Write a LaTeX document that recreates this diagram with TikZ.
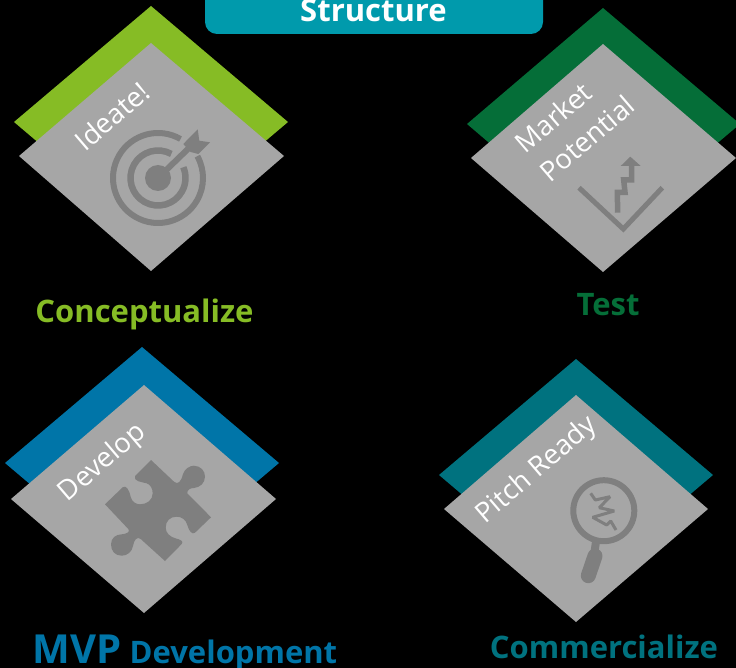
\documentclass[tikz,border=0pt]{standalone}
\usepackage{fontspec}
\setmainfont{Open Sans}

\definecolor{ideagreen}{HTML}{86BC25}
\definecolor{testgreen}{HTML}{056E38}
\definecolor{devblue}{HTML}{0075A8}
\definecolor{pitchteal}{HTML}{00727F}
\definecolor{titleteal}{HTML}{009AAC}
\definecolor{plategray}{HTML}{A6A6A6}
\definecolor{icongray}{HTML}{7F7F7F}

\tikzset{
	platetext/.style={white,rotate=40.6,font=\fontsize{27.5}{38}\selectfont,align=left,inner sep=0pt},
	headtext/.style={anchor=base,inner sep=0pt,font=\fontsize{31}{36}\selectfont\bfseries},
	iconline/.style={draw=icongray,line join=miter}
}

\begin{document}
\begin{tikzpicture}[x=1pt,y=1pt]
	\path[use as bounding box,fill=black] (0,0) rectangle (736,-668);

	\fill[titleteal,rounded corners=12pt] (205,20) rectangle (543,-34);
	\node[headtext,white] (structure) at (373.5,-22) {Structure};

	% back and front plates
	\fill[ideagreen] (151,-6) -- (288,-122) -- (151,-238) -- (14,-122) -- cycle;
	\fill[plategray] (151,-43) -- (284,-156) -- (151,-271) -- (19,-156) -- cycle;

	\fill[testgreen] (603,-8) -- (740,-124) -- (603,-240) -- (467,-124) -- cycle;
	\fill[plategray] (603,-44) -- (736,-158) -- (603,-272) -- (471,-158) -- cycle;

	\fill[devblue] (142,-347) -- (279,-463) -- (142,-579) -- (5,-463) -- cycle;
	\fill[plategray] (144,-385) -- (276,-499) -- (144,-613) -- (11,-499) -- cycle;

	\fill[pitchteal] (576,-359) -- (713,-475) -- (576,-591) -- (439,-475) -- cycle;
	\fill[plategray] (576,-395) -- (708,-509) -- (576,-622) -- (444,-509) -- cycle;

	% target
	\draw[iconline,line width=6pt] (158,-178) ++(60:45) arc[start angle=60,end angle=389,radius=45];
	\draw[iconline,line width=6.5pt] (158,-178) ++(61:27.5) arc[start angle=61,end angle=383,radius=27.5];
	\fill[icongray] (158,-178) circle (13);
	\draw[iconline,line width=6pt] (158,-178) -- (190,-147);
	\fill[icongray] (197.7,-129.3) -- (199.3,-140.7) -- (210,-142.3) -- (198.3,-154) -- (190.7,-152) -- (183.3,-144) -- cycle;

	% chart
	\draw[iconline,line width=5pt] (579,-187.7) -- (623.3,-229) -- (662.3,-187.7);
	\draw[iconline,line width=5.5pt] (617.7,-212.7) -- (617.3,-192.3) -- (625,-192.3) -- (623.7,-180) -- (631.7,-180) -- (631.7,-166);
	\fill[icongray] (620.7,-166) -- (630.3,-156.7) -- (640.7,-166) -- cycle;

	% puzzle piece
	\fill[icongray] (151,-460) -- (174,-481.7) .. controls (178,-485) and (181,-482) .. (183,-474)
		.. controls (184.5,-469) and (190,-465.5) .. (194,-465.7)
		.. controls (201,-466) and (205,-471) .. (205,-476.7)
		.. controls (205,-483) and (200,-487.5) .. (194,-488)
		.. controls (190,-488) and (187,-490) .. (187.3,-493.3)
		-- (211,-517.3) -- (195,-532.7)
		.. controls (192,-535) and (189,-531) .. (187.3,-525)
		.. controls (186,-520) and (182,-516.7) .. (176.7,-516.7)
		.. controls (170,-516.7) and (165.7,-521) .. (165.7,-527.7)
		.. controls (165.7,-533) and (170,-537) .. (176,-538.5)
		.. controls (180,-539.5) and (184,-541) .. (181.7,-544)
		-- (165,-561) -- (140.7,-539)
		.. controls (137,-536) and (134,-540) .. (133,-546)
		.. controls (132,-552) and (127,-555.7) .. (121.7,-555.7)
		.. controls (115,-555.7) and (111,-551) .. (111,-544.3)
		.. controls (111,-538) and (116,-534.3) .. (121.7,-534.3)
		.. controls (126,-534) and (131,-532) .. (128.3,-529)
		-- (105,-504.3) -- (122.7,-487.3)
		.. controls (126,-485) and (129,-489) .. (130.7,-497)
		.. controls (132,-502) and (136,-504.3) .. (140,-504.3)
		.. controls (147,-504.3) and (152.7,-500) .. (152.7,-493.3)
		.. controls (152.7,-488) and (150,-484.5) .. (146.7,-483.3)
		.. controls (142,-482) and (133,-481.5) .. (135,-476) -- cycle;

	% magnifier
	\draw[iconline,line width=6pt] (603.8,-510.7) circle (30.5);
	\draw[iconline,line width=8pt] (596,-541.7) -- (594.3,-553.3);
	\draw[iconline,line width=15pt,line cap=round] (595,-556) -- (588.3,-575.7);
	\draw[iconline,line width=3pt,line join=bevel] (590.7,-493.3) -- (595.3,-500) -- (610,-496.7) -- (599.3,-507.7) -- (614.3,-511) -- (592.7,-517.3) -- (606.7,-525) -- (610.7,-521) -- (616,-530);

	% plate texts
	\node[platetext] (ideate) at (112,-116) {Ideate!};
	\node[platetext] (market) at (574.5,-124) {Market\\Potential};
	\node[platetext] (develop) at (103,-463) {Develop};
	\node[platetext] (pitch) at (537,-470.5) {Pitch Ready};

	% headings
	\node[headtext,ideagreen] (conceptualize) at (144.5,-322) {Conceptualize};
	\node[headtext,testgreen] (test) at (608,-316) {Test};
	\node[headtext,devblue] (mvp) at (185,-663) {{\fontsize{40}{40}\selectfont MVP} Development};
	\node[headtext,pitchteal] (commercialize) at (604,-658) {Commercialize};
\end{tikzpicture}
\end{document}
